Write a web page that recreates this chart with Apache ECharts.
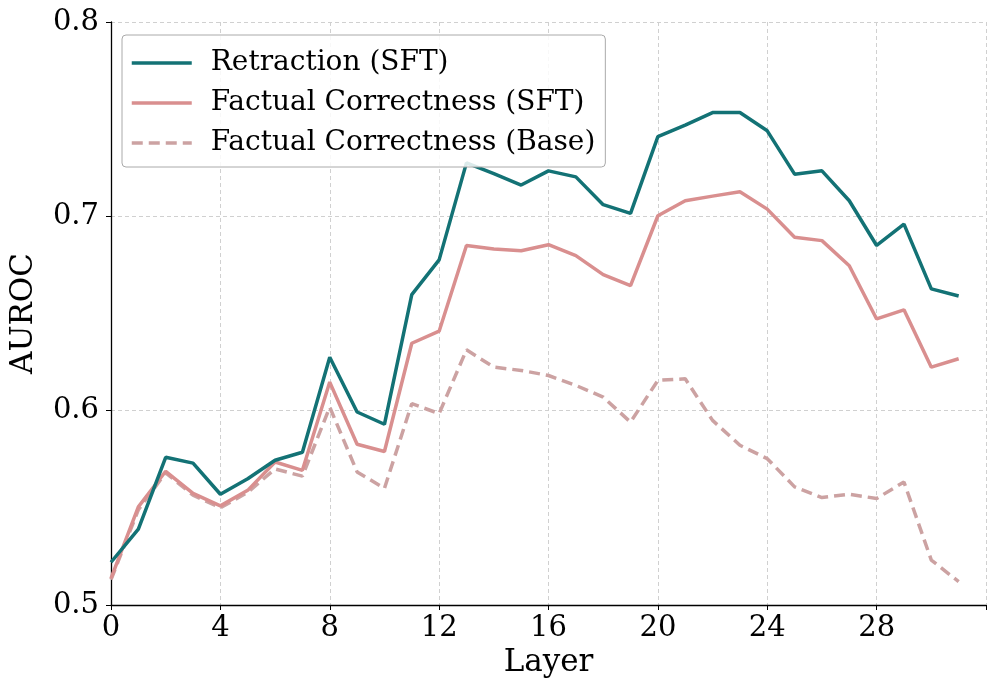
<!DOCTYPE html>
<html>
<head>
<meta charset="utf-8">
<script src="https://cdn.jsdelivr.net/npm/echarts@6/dist/echarts.min.js"></script>
<style>html,body{margin:0;padding:0;background:#fff}#c{width:996px;height:693px}</style>
</head>
<body>
<div id="c"></div>
<script>
const layers = Array.from({length: 32}, (_, i) => i);
const retractionSFT = [0.522,0.539,0.576,0.573,0.557,0.565,0.5745,0.5786,0.6275,0.5993,0.593,0.6597,0.6776,0.7275,0.722,0.7161,0.7234,0.7203,0.706,0.7015,0.741,0.7469,0.7534,0.7534,0.744,0.7217,0.7234,0.708,0.685,0.696,0.6627,0.659];
const factualSFT = [0.5137,0.5505,0.5688,0.5574,0.551,0.559,0.5736,0.5693,0.6147,0.5827,0.579,0.6347,0.6409,0.685,0.6832,0.6823,0.6854,0.6798,0.670,0.6644,0.7003,0.708,0.7104,0.7126,0.7037,0.6892,0.6875,0.6746,0.6472,0.6519,0.6224,0.6267];
const factualBase = [0.513,0.549,0.568,0.5565,0.55,0.558,0.570,0.5663,0.6018,0.5685,0.560,0.6036,0.5985,0.6313,0.6224,0.6207,0.6181,0.613,0.607,0.5941,0.6156,0.6164,0.595,0.5822,0.5753,0.5608,0.5553,0.557,0.5548,0.5633,0.5231,0.512];
const seriesNames = ['Retraction (SFT)', 'Factual Correctness (SFT)', 'Factual Correctness (Base)'];

const font = 'DejaVu Serif';
const chart = echarts.init(document.getElementById('c'));
const mk = (arr) => arr.map((v, i) => [layers[i], v]);
chart.setOption({
  animation: false,
  backgroundColor: '#fff',
  grid: {left: 107, right: 10, top: 22, bottom: 88},
  legend: {
    orient: 'vertical', left: 122, top: 35,
    padding: [14, 10, 10, 8],
    itemWidth: 60, itemHeight: 14, itemGap: 12,
    backgroundColor: 'rgba(255,255,255,0.85)',
    borderColor: '#aaa', borderWidth: 1, borderRadius: 4,
    itemStyle: {opacity: 0},
    lineStyle: {width: 3.5},
    textStyle: {fontFamily: font, fontSize: 28, color: '#000', padding: [0, 0, 0, 14]},
    data: seriesNames
  },
  xAxis: {
    type: 'value', min: 0, max: 32, interval: 4,
    name: 'Layer', nameLocation: 'middle', nameGap: 42,
    nameTextStyle: {fontFamily: font, fontSize: 31, color: '#000'},
    axisLine: {show: true, lineStyle: {color: '#000', width: 1.3}},
    axisTick: {show: true, length: 5, lineStyle: {color: '#000'}},
    axisLabel: {fontFamily: font, fontSize: 29, color: '#000', margin: 9,
      formatter: v => v >= 32 ? '' : String(v)},
    splitLine: {show: true, lineStyle: {color: '#d0d0d0', type: [4, 3], width: 1}}
  },
  yAxis: {
    type: 'value', min: 0.5, max: 0.8, interval: 0.1,
    name: 'AUROC', nameLocation: 'middle', nameGap: 72,
    nameTextStyle: {fontFamily: font, fontSize: 31, color: '#000'},
    axisLine: {show: true, lineStyle: {color: '#000', width: 1.3}},
    axisTick: {show: true, length: 5, lineStyle: {color: '#000'}},
    axisLabel: {fontFamily: font, fontSize: 29, color: '#000', margin: 12,
      formatter: v => v.toFixed(1)},
    splitLine: {show: true, lineStyle: {color: '#d0d0d0', type: [4, 3], width: 1}}
  },
  series: [
    {name: seriesNames[0], type: 'line', data: mk(retractionSFT), symbol: 'none',
      lineStyle: {color: '#137275', width: 3.5}, itemStyle: {color: '#137275'}, z: 3},
    {name: seriesNames[1], type: 'line', data: mk(factualSFT), symbol: 'none',
      lineStyle: {color: '#d98f8f', width: 3.5}, itemStyle: {color: '#d98f8f'}, z: 2},
    {name: seriesNames[2], type: 'line', data: mk(factualBase), symbol: 'none',
      lineStyle: {color: '#cca2a2', width: 3.5, type: [11, 6]}, itemStyle: {color: '#cca2a2'}, z: 1}
  ]
});
</script>
</body>
</html>
